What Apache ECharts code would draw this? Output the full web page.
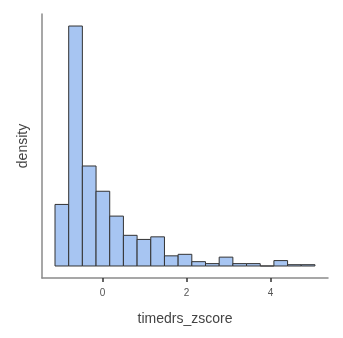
<!DOCTYPE html>
<html><head><meta charset="utf-8">
<script src="https://cdn.jsdelivr.net/npm/echarts@6/dist/echarts.min.js"></script>
<style>html,body{margin:0;padding:0;background:#fff}#c{width:343px;height:338px}</style>
</head><body><div id="c"></div>
<script>
var binEdges = [-1.135,-0.809,-0.483,-0.157,0.169,0.495,0.821,1.147,1.473,1.799,2.125,2.451,2.777,3.103,3.429,3.755,4.081,4.407,4.733,5.059];
var density = [0.285,1.111,0.463,0.346,0.231,0.142,0.123,0.135,0.047,0.054,0.020,0.011,0.041,0.011,0.011,0,0.025,0.006,0.006];
var xTicks = [0,2,4];
var xTitle = 'timedrs_zscore';
var yTitle = 'density';

var data = density.map(function(d,i){return [binEdges[i], binEdges[i+1], d];});
var chart = echarts.init(document.getElementById('c'));
chart.setOption({
  animation:false,
  grid:{left:42,right:15,top:14,bottom:60},
  xAxis:{type:'value',min:-1.445,max:5.37,
    name:xTitle,nameLocation:'middle',nameGap:34,
    nameTextStyle:{color:'#444',fontSize:14,fontFamily:'Liberation Sans, Arial, sans-serif'},
    axisLine:{show:true,onZero:false,lineStyle:{color:'#8a8a8a',width:1.5}},
    axisTick:{show:true,length:4,customValues:xTicks,lineStyle:{color:'#333',width:1.5}},
    axisLabel:{customValues:xTicks,color:'#555',fontSize:10,margin:10,fontFamily:'Liberation Sans, Arial, sans-serif'},
    splitLine:{show:false}},
  yAxis:{type:'value',min:-0.0556,max:1.1667,
    name:yTitle,nameLocation:'middle',nameGap:12,nameRotate:90,
    nameTextStyle:{color:'#444',fontSize:14,fontFamily:'Liberation Sans, Arial, sans-serif'},
    axisLine:{show:true,onZero:false,lineStyle:{color:'#8a8a8a',width:1.5}},
    axisTick:{show:false},axisLabel:{show:false},splitLine:{show:false}},
  series:[{type:'custom',data:data,
    renderItem:function(params,api){
      var p0=api.coord([api.value(0),0]);
      var p1=api.coord([api.value(1),api.value(2)]);
      return {type:'rect',shape:{x:p0[0],y:p1[1],width:p1[0]-p0[0],height:p0[1]-p1[1]},
        style:{fill:'#A7C5F2',stroke:'#333',lineWidth:1}};
    }}]
});
</script></body></html>
